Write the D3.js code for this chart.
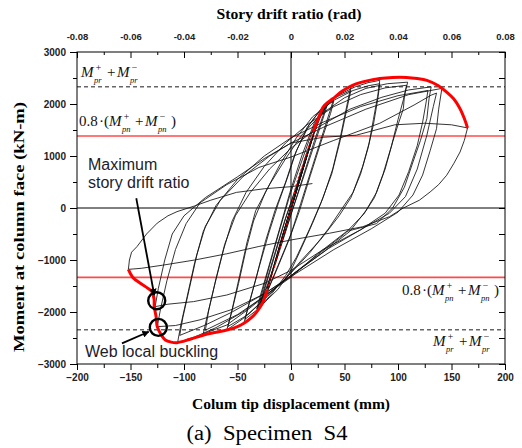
<!DOCTYPE html>
<html><head><meta charset="utf-8">
<script src="https://cdn.jsdelivr.net/npm/d3@7/dist/d3.min.js"></script>
<style>
html,body{margin:0;padding:0;background:#fff;}
svg{display:block;}
</style></head>
<body>
<svg id="chart" width="522" height="448"></svg>
<script>
// ---------- data ----------
const xTicksMajor = [-200,-150,-100,-50,0,50,100,150,200];
const xTicksMinor = [-175,-125,-75,-25,25,75,125,175];
const yTicksMajor = [-3000,-2000,-1000,0,1000,2000,3000];
const yTicksMinor = [-2500,-1500,-500,500,1500,2500];
const driftTicksMajor = [-0.08,-0.06,-0.04,-0.02,0,0.02,0.04,0.06,0.08];
const driftTicksMinor = [-0.07,-0.05,-0.03,-0.01,0.01,0.03,0.05,0.07];
const driftTickLabels = ["-0.08","-0.06","-0.04","-0.02","0","0.02","0.04","0.06","0.08"];

const mprLines = [2330, -2340];      // M+pr + M-pr (dashed)
const mpn08Lines = [1385, -1335];    // 0.8(M+pn + M-pn) (red)

const elasticCycles = [[0,0],[3,200],[6,410],[4,270],[1,60],[-2,-140],[-6,-420],[-4,-280],[-1,-50],[2,140],[6,410],[3,200],[-1,-70],[-6,-430],[-3,-210],[0,0],
[5,340],[10,690],[7,480],[2,130],[-4,-290],[-10,-720],[-7,-490],[-2,-120],[4,280],[10,690],[6,420],[0,0],[-10,-720],[-6,-430],[0,-10],
[8,540],[15,1020],[11,740],[4,260],[-6,-430],[-15,-1070],[-11,-760],[-3,-190],[6,400],[15,1010],[10,680],[0,-20],[-15,-1060],[-10,-700],[-2,-130],
[10,680],[21,1420],[16,1080],[8,520],[-2,-170],[-12,-860],[-22,-1560],[-17,-1180],[-8,-530],[2,110],[12,800],[21,1400],[15,1000],[5,310],[-8,-600],[-22,-1550],[-16,-1110],[-6,-390]];

const cycle33 = [[4,300],[15,1030],[26,1700],[33,1980],[30,1780],[22,1300],[12,650],[2,0],[-10,-780],[-20,-1400],[-28,-1800],[-24,-1520],[-15,-900],[-5,-200],[6,450],[18,1250],[28,1780],[34,1990],[31,1790],[22,1230],[11,550],[0,-120],[-12,-880],[-22,-1480],[-29,-1830],[-25,-1550],[-16,-930],[-6,-250]];

const cycle40 = [[5,420],[16,1150],[27,1780],[35,2000],[40,2110],[37,1900],[30,1450],[20,800],[9,80],[0,-500],[-12,-1100],[-22,-1600],[-28,-1850],[-32,-1990],[-28,-1700],[-20,-1100],[-10,-380],[-1,250],[10,900],[22,1600],[32,1950],[40,2060],[37,1820],[29,1330],[18,620],[8,-50],[-2,-620],[-14,-1220],[-24,-1690],[-32,-1940],[-28,-1640],[-19,-1000],[-10,-350]];

const cycle56 = [[-1,300],[10,1000],[22,1650],[33,1990],[44,2200],[56,2330],[53,2050],[46,1350],[39,750],[30,200],[20,-300],[8,-850],[0,-1200],[-12,-1560],[-24,-1800],[-35,-2050],[-44,-2218],[-40,-1900],[-32,-1300],[-24,-650],[-15,-50],[-5,500],[3,1000],[15,1550],[28,1900],[42,2130],[56,2260],[53,1980],[46,1300],[38,650],[28,100],[17,-420],[5,-950],[-5,-1300],[-18,-1650],[-30,-1930],[-43,-2140],[-39,-1830],[-30,-1150],[-21,-500]];

const cycle83 = [[-12,80],[-3,600],[5,1100],[17,1600],[30,1950],[45,2180],[60,2330],[72,2410],[83,2455],[81,2150],[77,1700],[73,1250],[67,800],[58,300],[48,0],[35,-400],[18,-850],[0,-1250],[-15,-1550],[-30,-1850],[-45,-2130],[-60,-2346],[-56,-2050],[-49,-1450],[-42,-800],[-35,-250],[-24,300],[-10,850],[5,1350],[20,1750],[38,2050],[58,2260],[72,2350],[83,2390],[81,2080],[77,1600],[72,1150],[65,650],[56,200],[45,-150],[28,-600],[10,-1000],[-5,-1350],[-22,-1700],[-40,-2050],[-59,-2280],[-55,-1950],[-48,-1300],[-41,-650]];

const cycle109 = [[-33,-50],[-20,450],[-5,950],[10,1400],[28,1800],[50,2120],[70,2300],[90,2390],[109,2420],[106,2150],[105,1910],[100,1600],[95,1270],[88,750],[80,300],[70,-50],[55,-450],[30,-850],[0,-1300],[-20,-1620],[-40,-1950],[-60,-2250],[-82,-2420],[-78,-2050],[-71,-1450],[-63,-800],[-55,-250],[-42,300],[-25,800],[-5,1250],[15,1600],[40,1950],[65,2180],[88,2310],[108,2360],[105,2080],[100,1700],[94,1200],[86,650],[78,200],[68,-120],[50,-500],[25,-900],[0,-1300],[-25,-1700],[-50,-2050],[-80,-2350],[-77,-1980],[-70,-1350],[-62,-700]];

const cycle131 = [[-52,-150],[-38,300],[-20,750],[0,1150],[25,1550],[55,1900],[85,2130],[110,2270],[131,2330],[129,2100],[127,1720],[121,1300],[114,885],[106,400],[95,0],[80,-300],[52,-450],[25,-880],[0,-1330],[-22,-1650],[-45,-2000],[-70,-2300],[-90,-2480],[-106,-2590],[-103,-2250],[-97,-1700],[-90,-1050],[-82,-450],[-70,50],[-50,550],[-25,1000],[0,1350],[30,1650],[65,1950],[100,2160],[128,2260],[126,2000],[123,1650],[118,1200],[110,700],[101,250],[88,-100],[65,-420],[35,-780],[0,-1300],[-25,-1650],[-55,-2000],[-80,-2250],[-104,-2450]];

const cycle141 = [[-101,-2100],[-95,-1550],[-88,-900],[-80,-350],[-66,150],[-45,600],[-20,1000],[0,1250],[30,1550],[70,1900],[110,2180],[141,2300],[138,1900],[136,1525],[130,1100],[123,634],[114,250],[100,-80],[75,-400],[40,-800],[0,-1320],[-25,-1650],[-55,-1950],[-85,-2150],[-108,-2260],[-125,-2282],[-122,-1950],[-116,-1400],[-108,-800],[-98,-300],[-85,100],[-60,450],[-30,780],[0,980],[40,1300],[83,1630],[115,1980],[131,2170],[136,2210],[133,1950],[127,1400],[118,750],[107,220],[92,-100],[65,-420],[30,-800],[0,-1200],[-25,-1450],[-60,-1673],[-91,-1800],[-115,-1850],[-127,-1897]];

const finalCycle = [[-124,-1550],[-118,-1000],[-111,-500],[-100,-150],[-80,200],[-50,600],[-25,950],[0,1250],[30,1360],[61,1400],[97,1600],[125,1630],[150,1600],[165,1540],[162,1300],[158,1077],[152,850],[145.5,630],[138,450],[130,308],[120,150],[105,0],[92,-167],[67,-360],[36,-485],[0,-615],[-30,-740],[-60,-880],[-90,-1000],[-120,-1100],[-140,-1160],[-152,-1180],[-151,-1000],[-149,-850],[-144,-744],[-135,-500],[-125,-290],[-115,-150],[-106.5,-70],[-90,40],[-75,150],[-51,300],[-25,370],[0,410],[20,470]];

// red envelope (skeleton curve)
const envelopeNeg = [[-152,-1180],[-148,-1330],[-140.8,-1448],[-134,-1540],[-130,-1609],[-128,-1750],[-127.8,-1897],[-126,-2100],[-125,-2282],[-121,-2450],[-117.5,-2538],[-112,-2580],[-106.5,-2590],[-95,-2530],[-81.6,-2442],[-70,-2390],[-60,-2346],[-50,-2280],[-44,-2218],[-37,-2110],[-31.8,-1994],[-26,-1800],[-22.4,-1577]];
const envelopeMid = [[-22.4,-1577],[-15,-1100],[-8,-600],[0,0],[5.3,475],[14.6,1051],[21,1480]];
const envelopePos = [[21,1480],[27,1800],[30,1940],[35,2040],[39,2100],[48,2250],[58,2365],[70,2440],[83,2490],[95,2510],[108,2510],[118,2490],[127,2455],[137,2360],[145.5,2230],[152,2100],[158,1910],[162,1720],[165,1540]];

// annotation anchors (data coords)
const markerPoints = [[-125.5,-1783],[-124,-2296]];
const arrowSegments = [[[-144.6,187],[-127.8,-1673]],[[-158,-2602],[-133,-2379]]];

// ---------- drawing ----------
const svg = d3.select("#chart");
const L = 77, R = 505, T = 52, B = 364;
const x = d3.scaleLinear().domain([-200,200]).range([L,R]);
const xd = d3.scaleLinear().domain([-0.08,0.08]).range([L,R]);
const y = d3.scaleLinear().domain([-3000,3000]).range([B,T]);

const sans = "Liberation Sans, Arial, sans-serif";
const serif = "Liberation Serif, Times New Roman, serif";

// reference lines
svg.append("g").selectAll("line").data(mpn08Lines).join("line")
  .attr("x1",L).attr("x2",R).attr("y1",d=>y(d)).attr("y2",d=>y(d))
  .attr("stroke","#ff4a4a").attr("stroke-width",1.6);
svg.append("g").selectAll("line").data(mprLines).join("line")
  .attr("x1",L).attr("x2",R).attr("y1",d=>y(d)).attr("y2",d=>y(d))
  .attr("stroke","#666").attr("stroke-width",1.5).attr("stroke-dasharray","4,3");

// zero lines
svg.append("line").attr("x1",L).attr("x2",R).attr("y1",y(0)).attr("y2",y(0)).attr("stroke","#000").attr("stroke-width",1);
svg.append("line").attr("x1",x(0)).attr("x2",x(0)).attr("y1",T).attr("y2",B).attr("stroke","#000").attr("stroke-width",1);

// hysteresis loops
const allLoops = [].concat(elasticCycles, cycle33, cycle40, cycle56, cycle83, cycle109, cycle131, cycle141, finalCycle);
const line = d3.line().x(d=>x(d[0])).y(d=>y(d[1]));
svg.append("path").datum(allLoops).attr("d",line)
  .attr("fill","none").attr("stroke","#111").attr("stroke-width",0.85).attr("stroke-linejoin","round");

// envelope
const envLine = d3.line().x(d=>x(d[0])).y(d=>y(d[1])).curve(d3.curveCatmullRom.alpha(0.5));
svg.append("path").datum(envelopeNeg).attr("d",envLine).attr("fill","none").attr("stroke","#ff0000").attr("stroke-width",3).attr("stroke-linejoin","round");
svg.append("path").datum(envelopePos).attr("d",envLine).attr("fill","none").attr("stroke","#ff0000").attr("stroke-width",3).attr("stroke-linejoin","round");
svg.append("path").datum(envelopeMid).attr("d",envLine).attr("fill","none").attr("stroke","#ff0000").attr("stroke-width",1.2).attr("stroke-dasharray","2,2");

// frame
svg.append("rect").attr("x",L).attr("y",T).attr("width",R-L).attr("height",B-T).attr("fill","none").attr("stroke","#000").attr("stroke-width",1);

// axes
const axisStyle = g => { g.select(".domain").remove(); g.selectAll("line").attr("stroke","#000"); };
// bottom major
svg.append("g").attr("transform",`translate(0,${B})`)
  .call(d3.axisBottom(x).tickValues(xTicksMajor).tickSize(6).tickPadding(4).tickFormat(d3.format("d")))
  .call(axisStyle)
  .call(g=>g.selectAll("text").attr("font-family",sans).attr("font-size",10).attr("font-weight","bold").attr("fill","#222"));
svg.append("g").attr("transform",`translate(0,${B})`)
  .call(d3.axisBottom(x).tickValues(xTicksMinor).tickSize(4).tickFormat(""))
  .call(axisStyle);
// left
svg.append("g").attr("transform",`translate(${L},0)`)
  .call(d3.axisLeft(y).tickValues(yTicksMajor).tickSize(7).tickPadding(4).tickFormat(d3.format("d")))
  .call(axisStyle)
  .call(g=>g.selectAll("text").attr("font-family",sans).attr("font-size",10).attr("font-weight","bold").attr("fill","#222"));
svg.append("g").attr("transform",`translate(${L},0)`)
  .call(d3.axisLeft(y).tickValues(yTicksMinor).tickSize(4).tickFormat(""))
  .call(axisStyle);
// right (inward)
svg.append("g").attr("transform",`translate(${R},0)`)
  .call(d3.axisRight(y).tickValues(yTicksMajor.concat(yTicksMinor)).tickSize(-6).tickFormat(""))
  .call(axisStyle);
// top drift axis
svg.append("g").attr("transform",`translate(0,${T})`)
  .call(d3.axisTop(xd).tickValues(driftTicksMajor).tickSize(-6).tickPadding(12).tickFormat((d,i)=>driftTickLabels[i]))
  .call(axisStyle)
  .call(g=>g.selectAll("text").attr("font-family",sans).attr("font-size",9.5).attr("font-weight","bold").attr("fill","#222"));
svg.append("g").attr("transform",`translate(0,${T})`)
  .call(d3.axisTop(xd).tickValues(driftTicksMinor).tickSize(-3).tickFormat(""))
  .call(axisStyle);

// titles
svg.append("text").attr("x",289).attr("y",19).attr("text-anchor","middle")
  .attr("font-family",serif).attr("font-weight","bold").attr("font-size",15)
  .attr("textLength",145).attr("lengthAdjust","spacingAndGlyphs").text("Story drift ratio (rad)");
svg.append("text").attr("x",291).attr("y",409).attr("text-anchor","middle")
  .attr("font-family",serif).attr("font-weight","bold").attr("font-size",14.5)
  .attr("textLength",198).attr("lengthAdjust","spacingAndGlyphs").text("Colum tip displacement (mm)");
svg.append("text").attr("transform","translate(24,227) rotate(-90)").attr("text-anchor","middle")
  .attr("font-family",serif).attr("font-weight","bold").attr("font-size",15.5)
  .attr("textLength",250).attr("lengthAdjust","spacingAndGlyphs").text("Moment at column face (kN-m)");
svg.append("text").attr("x",267).attr("y",440).attr("text-anchor","middle").style("white-space","pre")
  .attr("font-family",serif).attr("font-size",20)
  .attr("textLength",161).attr("lengthAdjust","spacingAndGlyphs").text("(a)  Specimen  S4");

// formula labels
function mLabel(x0, yb, sub, withFactor){
  const g = svg.append("g").attr("font-family",serif).attr("fill","#111");
  let o = 0;
  if(withFactor){
    g.append("text").attr("x",x0).attr("y",yb).attr("font-size",15).text("0.8");
    g.append("text").attr("x",x0+20).attr("y",yb).attr("font-size",15).text("·");
    g.append("text").attr("x",x0+25).attr("y",yb).attr("font-size",15).text("(");
    o = 30;
  }
  g.append("text").attr("x",x0+o).attr("y",yb).attr("font-size",15).attr("font-style","italic").text("M");
  g.append("text").attr("x",x0+o+14).attr("y",yb-6).attr("font-size",10).attr("font-style","italic").text("+");
  g.append("text").attr("x",x0+o+13).attr("y",yb+6).attr("font-size",8.5).attr("font-style","italic").text(sub);
  g.append("text").attr("x",x0+o+26).attr("y",yb).attr("font-size",15).text("+");
  g.append("text").attr("x",x0+o+36).attr("y",yb).attr("font-size",15).attr("font-style","italic").text("M");
  g.append("text").attr("x",x0+o+50).attr("y",yb-6).attr("font-size",10).attr("font-style","italic").text("−");
  g.append("text").attr("x",x0+o+49).attr("y",yb+6).attr("font-size",8.5).attr("font-style","italic").text(sub);
  if(withFactor){
    g.append("text").attr("x",x0+o+62).attr("y",yb).attr("font-size",15).text(")");
  }
}
mLabel(81, 76.5, "pr", false);
mLabel(79, 126, "pn", true);
mLabel(402, 295, "pn", true);
mLabel(433, 346, "pr", false);

// annotations
svg.append("text").attr("x",88).attr("y",170).attr("font-family",sans).attr("font-size",16).attr("fill","#1c1c2c").text("Maximum");
svg.append("text").attr("x",88).attr("y",188).attr("font-family",sans).attr("font-size",16).attr("fill","#1c1c2c").text("story drift ratio");
svg.append("text").attr("x",85).attr("y",357).attr("font-family",sans).attr("font-size",16).attr("fill","#1c1c2c").text("Web local buckling");

svg.append("g").selectAll("circle").data(markerPoints).join("circle")
  .attr("cx",d=>x(d[0])).attr("cy",d=>y(d[1])).attr("r",8.5)
  .attr("fill","none").attr("stroke","#000").attr("stroke-width",2.4);

svg.append("defs").append("marker").attr("id","ah").attr("viewBox","0 0 10 10")
  .attr("refX",9).attr("refY",5).attr("markerWidth",7).attr("markerHeight",7)
  .attr("orient","auto").attr("markerUnits","userSpaceOnUse")
  .append("path").attr("d","M0,0 L10,5 L0,10 z").attr("fill","#000");
svg.append("g").selectAll("line").data(arrowSegments).join("line")
  .attr("x1",d=>x(d[0][0])).attr("y1",d=>y(d[0][1]))
  .attr("x2",d=>x(d[1][0])).attr("y2",d=>y(d[1][1]))
  .attr("stroke","#000").attr("stroke-width",1.8).attr("marker-end","url(#ah)");
</script>
</body></html>
